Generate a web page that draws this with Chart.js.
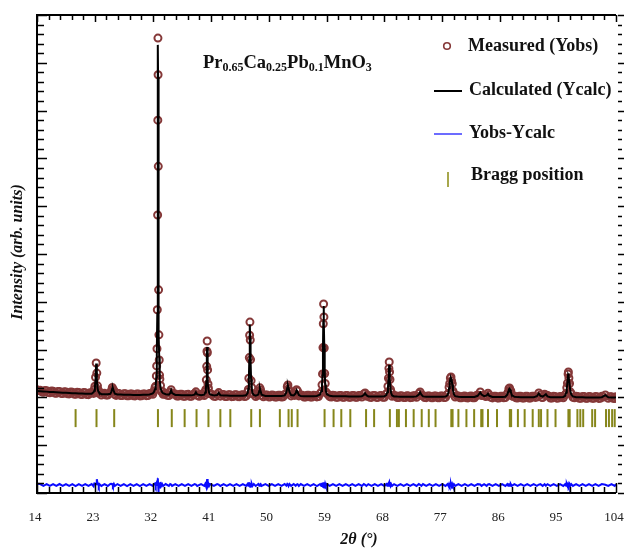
<!DOCTYPE html>
<html>
<head>
<meta charset="utf-8">
<script src="https://cdn.jsdelivr.net/npm/chart.js@4/dist/chart.umd.min.js"></script>
<style>
  html, body { margin: 0; padding: 0; background: #fff; }
  canvas { display: block; }
</style>
</head>
<body>
<canvas id="xrd" width="627" height="549"></canvas>
<script>
// 2-theta positions (deg), fitted and measured intensities (counts)
var twoTheta = [
  14.0, 14.5, 15.0, 15.5, 16.0, 16.5, 17.0, 17.5, 18.0, 18.5,
  19.0, 19.5, 20.0, 20.5, 21.0, 21.5, 22.0, 22.5, 22.8, 22.9,
  23.0, 23.1, 23.2, 23.3, 23.4, 23.5, 23.6, 23.7, 24.0, 24.5,
  25.0, 25.4, 25.55, 25.7, 25.8, 25.95, 26.1, 26.5, 27.0, 27.5,
  28.0, 28.5, 29.0, 29.5, 30.0, 30.5, 31.0, 31.5, 32.0, 32.2,
  32.35, 32.45, 32.55, 32.6, 32.65, 32.7, 32.75, 32.78, 32.8, 32.82,
  32.85, 32.9, 32.95, 33.0, 33.05, 33.1, 33.2, 33.3, 33.45, 33.6,
  34.0, 34.5, 34.7, 34.85, 35.0, 35.5, 36.0, 36.5, 37.0, 37.5,
  38.0, 38.5, 38.7, 38.9, 39.5, 40.0, 40.15, 40.25, 40.32, 40.38,
  40.42, 40.45, 40.48, 40.52, 40.58, 40.65, 40.75, 40.9, 41.5, 42.0,
  42.25, 42.5, 43.0, 43.5, 44.0, 44.5, 45.0, 45.5, 46.0, 46.5,
  46.75, 46.85, 46.93, 47.0, 47.05, 47.1, 47.15, 47.2, 47.28, 47.38,
  47.5, 47.7, 48.0, 48.4, 48.55, 48.65, 48.75, 48.9, 49.5, 50.0,
  50.5, 51.0, 51.5, 52.0, 52.5, 52.75, 52.9, 53.0, 53.1, 53.25,
  53.5, 53.9, 54.2, 54.35, 54.5, 54.7, 55.0, 55.5, 56.0, 56.5,
  57.0, 57.5, 58.0, 58.2, 58.3, 58.38, 58.45, 58.5, 58.55, 58.6,
  58.65, 58.72, 58.8, 58.9, 59.05, 59.5, 60.0, 60.5, 61.0, 61.5,
  62.0, 62.5, 63.0, 63.5, 64.0, 64.5, 64.8, 65.0, 65.2, 65.5,
  66.0, 66.5, 67.0, 67.5, 68.0, 68.3, 68.45, 68.55, 68.63, 68.7,
  68.75, 68.8, 68.87, 68.95, 69.05, 69.2, 69.5, 70.0, 70.5, 71.0,
  71.5, 72.0, 72.5, 73.0, 73.35, 73.55, 73.75, 74.0, 74.5, 75.0,
  75.5, 76.0, 76.5, 77.0, 77.5, 77.8, 77.95, 78.05, 78.15, 78.25,
  78.35, 78.45, 78.55, 78.65, 78.8, 79.0, 79.5, 80.0, 80.5, 81.0,
  81.5, 82.0, 82.5, 82.9, 83.1, 83.5, 83.9, 84.1, 84.3, 84.8,
  85.3, 85.8, 86.3, 86.8, 87.1, 87.25, 87.35, 87.45, 87.55, 87.65,
  87.8, 88.2, 88.7, 89.2, 89.7, 90.2, 90.7, 91.2, 91.7, 92.0,
  92.25, 92.6, 92.9, 93.1, 93.35, 93.8, 94.3, 94.8, 95.3, 95.8,
  96.1, 96.25, 96.35, 96.45, 96.55, 96.6, 96.68, 96.78, 96.9, 97.05,
  97.3, 97.8, 98.3, 98.8, 99.3, 99.8, 100.3, 100.8, 101.3, 101.8,
  102.35, 102.8, 103.3, 103.8, 104.0
];

var yCalc = [
  560, 555, 550, 545, 538, 533, 528, 523, 518, 514,
  510, 506, 502, 498, 495, 492, 490, 492, 533, 564,
  640, 868, 1248, 865, 636, 560, 530, 515, 482, 480,
  481, 490, 540, 625, 630, 548, 495, 472, 470, 468,
  466, 464, 463, 462, 462, 464, 467, 475, 500, 540,
  610, 700, 900, 1150, 1550, 2500, 5000, 7300, 9250, 8450,
  6300, 3300, 2000, 1400, 1000, 820, 650, 580, 530, 505,
  480, 470, 505, 580, 510, 462, 458, 455, 453, 452,
  451, 470, 530, 475, 452, 470, 520, 620, 800, 1150,
  1500, 1667, 1450, 1050, 760, 600, 520, 475, 450, 458,
  510, 455, 446, 445, 444, 443, 442, 441, 443, 455,
  510, 620, 850, 1350, 1900, 2230, 1880, 1300, 850, 620,
  510, 460, 445, 470, 560, 625, 560, 470, 437, 435,
  434, 433, 433, 434, 450, 520, 640, 700, 640, 530,
  460, 450, 500, 580, 540, 460, 436, 432, 431, 430,
  431, 436, 470, 560, 680, 950, 1600, 2300, 2696, 2350,
  1700, 1050, 720, 560, 480, 440, 430, 428, 427, 426,
  426, 425, 425, 424, 424, 430, 460, 505, 455, 425,
  423, 422, 422, 423, 428, 460, 530, 650, 850, 1100,
  1215, 1080, 820, 620, 510, 450, 425, 420, 419, 418,
  418, 417, 418, 425, 470, 530, 470, 425, 416, 415,
  414, 414, 414, 415, 422, 450, 520, 630, 770, 860,
  880, 840, 720, 580, 480, 430, 414, 412, 411, 411,
  411, 412, 440, 525, 470, 430, 450, 490, 440, 410,
  408, 408, 408, 418, 470, 545, 600, 620, 595, 540,
  460, 415, 407, 406, 405, 405, 405, 406, 430, 500,
  440, 420, 455, 480, 425, 404, 403, 403, 403, 412,
  440, 520, 620, 780, 960, 1000, 920, 720, 560, 470,
  425, 405, 402, 401, 400, 399, 398, 398, 397, 405,
  455, 402, 396, 395, 395
];

var yObs = [
  590, 580, 530, 570, 515, 556, 505, 548, 495, 538,
  488, 530, 478, 522, 472, 516, 468, 515, 500, 600,
  680, 905, 1265, 1010, 690, 595, 505, 540, 460, 505,
  458, 515, 570, 650, 605, 575, 470, 496, 447, 492,
  442, 488, 440, 486, 438, 488, 444, 500, 478, 570,
  650, 680, 940, 1190, 1620, 2600, 4980, 7360, 9420, 8500,
  6200, 3100, 1970, 1340, 960, 860, 700, 555, 555, 480,
  505, 447, 530, 592, 488, 486, 435, 478, 430, 476,
  428, 495, 540, 452, 476, 448, 548, 600, 840, 1180,
  1560, 1817, 1520, 1090, 735, 630, 498, 500, 427, 482,
  520, 432, 470, 422, 467, 420, 465, 418, 466, 432,
  540, 600, 880, 1400, 1960, 2290, 1840, 1350, 820, 650,
  488, 485, 422, 495, 545, 640, 585, 448, 460, 412,
  458, 410, 457, 411, 474, 505, 670, 713, 615, 555,
  438, 474, 480, 592, 560, 438, 460, 409, 455, 407,
  455, 412, 495, 535, 715, 990, 1650, 2250, 2746, 2420,
  1640, 1000, 750, 540, 505, 418, 454, 405, 450, 403,
  450, 402, 449, 401, 447, 408, 485, 512, 432, 448,
  400, 446, 399, 446, 405, 485, 510, 680, 880, 1130,
  1290, 1040, 850, 598, 535, 428, 448, 397, 442, 395,
  441, 394, 442, 402, 495, 537, 448, 448, 393, 438,
  391, 437, 391, 438, 400, 475, 500, 655, 750, 885,
  914, 815, 745, 560, 502, 408, 437, 389, 434, 388,
  434, 389, 462, 537, 448, 452, 428, 505, 462, 388,
  431, 386, 430, 396, 492, 528, 618, 638, 578, 562,
  438, 438, 385, 429, 383, 428, 383, 429, 408, 512,
  462, 398, 476, 462, 447, 382, 426, 381, 425, 390,
  462, 500, 645, 760, 985, 1039, 890, 748, 540, 492,
  403, 428, 380, 424, 378, 422, 376, 420, 375, 428,
  462, 380, 418, 373, 417
];

// intermediate measured steps in the flat background stretches
var bgTheta = [
  14.25, 14.75, 15.25, 15.75, 16.25, 16.75, 17.25, 17.75, 18.25, 18.75,
  19.25, 19.75, 20.25, 20.75, 21.25, 21.75, 22.25, 24.25, 24.75, 26.3,
  26.75, 27.25, 27.75, 28.25, 28.75, 29.25, 29.75, 30.25, 30.75, 31.25,
  31.75, 33.8, 34.25, 35.25, 35.75, 36.25, 36.75, 37.25, 37.75, 38.25,
  39.2, 39.75, 41.2, 41.75, 42.75, 43.25, 43.75, 44.25, 44.75, 45.25,
  45.75, 46.25, 48.2, 49.2, 49.75, 50.25, 50.75, 51.25, 51.75, 52.25,
  53.7, 54.05, 55.25, 55.75, 56.25, 56.75, 57.25, 57.75, 59.25, 59.75,
  60.25, 60.75, 61.25, 61.75, 62.25, 62.75, 63.25, 63.75, 64.25, 65.75,
  66.25, 66.75, 67.25, 67.75, 69.75, 70.25, 70.75, 71.25, 71.75, 72.25,
  72.75, 74.25, 74.75, 75.25, 75.75, 76.25, 76.75, 77.25, 79.25, 79.75,
  80.25, 80.75, 81.25, 81.75, 82.25, 83.7, 84.55, 85.05, 85.55, 86.05,
  86.55, 88.0, 88.45, 88.95, 89.45, 89.95, 90.45, 90.95, 91.45, 92.45,
  93.6, 94.05, 94.55, 95.05, 95.55, 97.55, 98.05, 98.55, 99.05, 99.55,
  100.05, 100.55, 101.05, 101.55, 102.05, 103.05, 103.55
];

var bgObs = [
  575, 540, 575, 520, 560, 508, 550, 500, 540, 492,
  535, 485, 528, 478, 520, 470, 515, 500, 458, 450,
  495, 445, 490, 440, 488, 438, 485, 440, 488, 445,
  500, 485, 455, 490, 435, 478, 430, 475, 428, 470,
  430, 478, 470, 425, 470, 420, 468, 418, 465, 418,
  462, 422, 465, 415, 458, 412, 455, 410, 455, 415,
  478, 450, 455, 410, 452, 408, 450, 420, 470, 410,
  450, 405, 448, 404, 446, 403, 445, 402, 445, 403,
  445, 400, 443, 402, 440, 398, 438, 397, 437, 396,
  440, 398, 436, 394, 434, 393, 434, 396, 440, 392,
  432, 390, 430, 390, 440, 425, 405, 430, 388, 428,
  392, 430, 390, 428, 386, 426, 385, 427, 400, 405,
  430, 385, 425, 383, 422, 390, 425, 380, 420, 378,
  418, 377, 417, 380, 410, 418, 376
];

// reflection positions of the refined phase (deg)
var braggPos = [
  20.0, 23.25, 26.0, 32.8, 34.95, 36.95, 38.8, 40.65, 42.5, 44.05,
  47.3, 48.65, 51.75, 53.1, 53.6, 54.5, 58.7, 60.1, 61.3, 62.7,
  65.15, 66.4, 68.85, 69.95, 70.25, 71.35, 72.55, 73.8, 74.9, 75.95,
  78.4, 78.6, 79.5, 80.75, 81.95, 83.05, 83.25, 84.1, 85.5, 87.5,
  87.7, 88.75, 89.8, 91.05, 92.0, 92.35, 93.35, 94.6, 96.6, 96.8,
  98.0, 98.45, 98.9, 100.3, 100.75, 102.45, 102.9, 103.4, 103.8
];

var xMajorTicks = [14, 23, 32, 41, 50, 59, 68, 77, 86, 95, 104];
var yMin = -2000, yMax = 10000, yTickStep = 240;
var diffOffset = -1800;   // baseline of the Yobs-Ycalc curve
var braggLevel = -120;    // where the reflection markers sit

var obsPts = [], calcPts = [], diffPts = [], braggPts = [];
for (var i = 0; i < twoTheta.length; i++) {
    obsPts.push({x: twoTheta[i], y: yObs[i]});
    calcPts.push({x: twoTheta[i], y: yCalc[i]});
    diffPts.push({x: twoTheta[i], y: yObs[i] - yCalc[i] + diffOffset});
}
for (var b = 0; b < bgTheta.length; b++) {
    obsPts.push({x: bgTheta[b], y: bgObs[b]});
}
for (var j = 0; j < braggPos.length; j++) {
    braggPts.push({x: braggPos[j], y: braggLevel});
}

var SERIF = "'Liberation Serif', 'Times New Roman', serif";

// frame with inward ticks, legend, formula and axis titles
var decorations = {
    id: 'decorations',
    afterDatasetsDraw: function(chart) {
        var ctx = chart.ctx;
        var a = chart.chartArea;
        var xs = chart.scales.x, ys = chart.scales.y;
        ctx.save();

        // frame
        ctx.strokeStyle = '#000';
        ctx.lineWidth = 2;
        ctx.beginPath();
        ctx.moveTo(a.right, a.top); ctx.lineTo(a.left, a.top);
        ctx.lineTo(a.left, a.bottom); ctx.lineTo(a.right, a.bottom);
        ctx.stroke();

        // x ticks, 5 subdivisions between labelled values
        ctx.lineWidth = 1.5;
        for (var k = 0; k < xMajorTicks.length; k++) {
            var v0 = xMajorTicks[k];
            var px = Math.round(xs.getPixelForValue(v0)) + 0.5;
            ctx.beginPath();
            ctx.moveTo(px, a.bottom); ctx.lineTo(px, a.bottom - 10);
            ctx.moveTo(px, a.top); ctx.lineTo(px, a.top + 7);
            ctx.stroke();
            if (k < xMajorTicks.length - 1) {
                var step = (xMajorTicks[k + 1] - v0) / 5;
                for (var m = 1; m < 5; m++) {
                    var pm = Math.round(xs.getPixelForValue(v0 + m * step)) + 0.5;
                    ctx.beginPath();
                    ctx.moveTo(pm, a.bottom); ctx.lineTo(pm, a.bottom - 6);
                    ctx.moveTo(pm, a.top); ctx.lineTo(pm, a.top + 5);
                    ctx.stroke();
                }
            }
        }

        // y ticks
        var n = 0;
        for (var t = yMin; t <= yMax + 1; t += yTickStep, n++) {
            var py = Math.round(ys.getPixelForValue(t)) + 0.5;
            var len = (n % 5 === 0) ? 10 : 7;
            ctx.beginPath();
            ctx.moveTo(a.left, py); ctx.lineTo(a.left + len, py);
            ctx.moveTo(a.right + 2, py); ctx.lineTo(a.right + 2 + (n % 5 === 0 ? 6 : 4), py);
            ctx.stroke();
        }

        // formula
        var fx = 203, fy = 68;
        var parts = [['Pr', 0], ['0.65', 1], ['Ca', 0], ['0.25', 1], ['Pb', 0], ['0.1', 1], ['MnO', 0], ['3', 1]];
        ctx.fillStyle = '#111';
        ctx.textBaseline = 'alphabetic';
        ctx.textAlign = 'left';
        parts.forEach(function(p) {
            ctx.font = p[1] ? 'bold 12px ' + SERIF : 'bold 18.5px ' + SERIF;
            ctx.fillText(p[0], fx, fy + (p[1] ? 3 : 0));
            fx += ctx.measureText(p[0]).width;
        });

        // legend
        ctx.font = 'bold 18px ' + SERIF;
        ctx.textBaseline = 'middle';
        ctx.fillText('Measured (Yobs)', 468, 46);
        ctx.fillText('Calculated (Ycalc)', 469, 90);
        ctx.fillText('Yobs-Ycalc', 469, 133);
        ctx.fillText('Bragg position', 471, 175);

        ctx.strokeStyle = '#853838';
        ctx.lineWidth = 1.6;
        ctx.beginPath(); ctx.arc(447, 46, 3.3, 0, Math.PI * 2); ctx.stroke();
        ctx.strokeStyle = '#000';
        ctx.lineWidth = 2;
        ctx.beginPath(); ctx.moveTo(434, 91); ctx.lineTo(462, 91); ctx.stroke();
        ctx.strokeStyle = '#3b3bff';
        ctx.lineWidth = 1.5;
        ctx.beginPath(); ctx.moveTo(434, 134); ctx.lineTo(462, 134); ctx.stroke();
        ctx.strokeStyle = '#8a8a10';
        ctx.lineWidth = 1.5;
        ctx.beginPath(); ctx.moveTo(448, 172); ctx.lineTo(448, 187); ctx.stroke();

        // axis titles
        ctx.fillStyle = '#111';
        ctx.font = 'italic bold 16px ' + SERIF;
        ctx.textAlign = 'center';
        ctx.fillText('2\u03B8 (\u00B0)', 359, 540);

        ctx.save();
        ctx.translate(18, 252);
        ctx.rotate(-Math.PI / 2);
        ctx.font = 'italic bold 16px ' + SERIF;
        ctx.fillText('Intensity (arb. units)', 0, 0);
        ctx.restore();

        ctx.restore();
    }
};

var ctx = document.getElementById('xrd').getContext('2d');
var xrdChart = new Chart(ctx, {
    type: 'scatter',
    data: {
        datasets: [
            {
                label: 'Calculated (Ycalc)',
                type: 'line',
                data: calcPts,
                borderColor: '#000',
                borderWidth: 2,
                pointRadius: 0,
                tension: 0,
                order: 0
            },
            {
                label: 'Measured (Yobs)',
                data: obsPts,
                pointStyle: 'circle',
                pointRadius: 3.5,
                borderWidth: 2,
                borderColor: '#853838',
                backgroundColor: 'rgba(0,0,0,0)',
                order: 1
            },
            {
                label: 'Yobs-Ycalc',
                type: 'line',
                data: diffPts,
                borderColor: '#0a0aff',
                borderWidth: 2,
                pointRadius: 0,
                tension: 0,
                order: 2
            },
            {
                label: 'Bragg position',
                data: braggPts,
                pointStyle: 'line',
                rotation: 90,
                pointRadius: 9,
                borderWidth: 2,
                borderColor: '#86861a',
                order: 3
            }
        ]
    },
    options: {
        responsive: false,
        animation: false,
        devicePixelRatio: 1,
        layout: { padding: { top: 15, right: 7, left: 0, bottom: 0 } },
        plugins: {
            legend: { display: false },
            tooltip: { enabled: false }
        },
        scales: {
            x: {
                type: 'linear',
                min: 14,
                max: 104,
                afterBuildTicks: function(scale) {
                    scale.ticks = xMajorTicks.map(function(v) { return {value: v}; });
                },
                afterFit: function(scale) {
                    scale.height = 56;
                    scale.paddingLeft = 0;
                    scale.paddingRight = 0;
                },
                grid: { display: false, drawTicks: false },
                border: { display: false },
                ticks: {
                    padding: 17,
                    labelOffset: -2,
                    maxRotation: 0,
                    autoSkip: false,
                    color: '#222',
                    font: { family: SERIF, size: 13 }
                }
            },
            y: {
                min: yMin,
                max: yMax,
                afterFit: function(scale) { scale.width = 37; },
                grid: { display: false, drawTicks: false },
                border: { display: false },
                ticks: { display: false }
            }
        }
    },
    plugins: [decorations]
});
</script>
</body>
</html>
